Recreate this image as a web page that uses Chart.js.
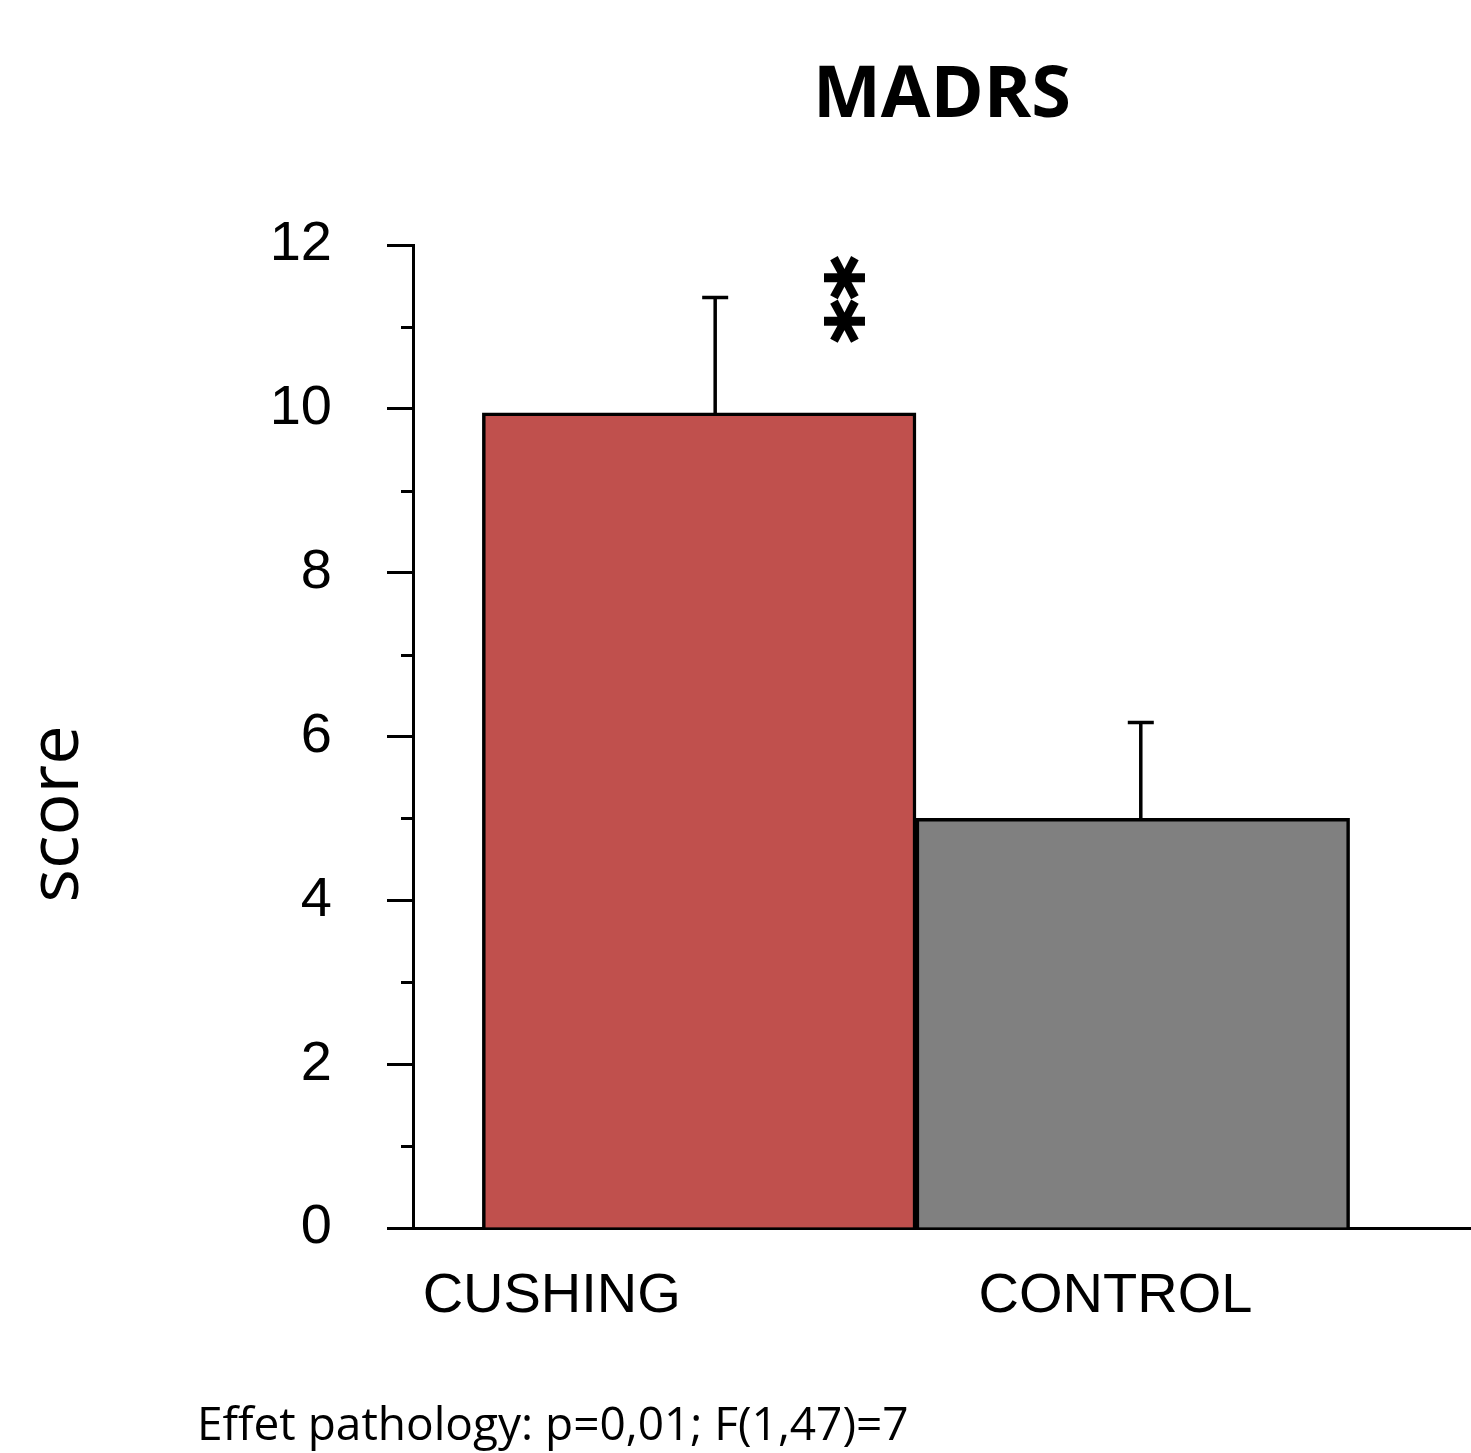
<!DOCTYPE html>
<html>
<head>
<meta charset="utf-8">
<title>MADRS</title>
<script src="https://cdn.jsdelivr.net/npm/chart.js@4/dist/chart.umd.min.js"></script>
<style>
  body { margin: 0; background: #fff; }
  canvas { display: block; }
</style>
</head>
<body>
<canvas id="chart" width="1471" height="1453"></canvas>
<script>
// Données
const groups = ['CUSHING', 'CONTROL'];
const means = [9.95, 5.0];
const errors = [1.41, 1.17];
const barColors = ['#C0504D', '#808080'];
const yTicks = [0, 2, 4, 6, 8, 10, 12];
const footnote = 'Effet pathology: p=0,01; F(1,47)=7';

// Barres d'erreur, astérisques, graduations mineures, textes libres
const extras = {
  id: 'extras',
  afterDatasetsDraw(chart) {
    const ctx = chart.ctx;
    const x = chart.scales.x;
    const y = chart.scales.y;
    const shift = [16, 8];
    ctx.save();
    ctx.strokeStyle = '#000';
    ctx.lineWidth = 3.5;
    means.forEach((m, i) => {
      const px = x.getPixelForValue(i) + shift[i];
      const top = y.getPixelForValue(m + errors[i]);
      const base = y.getPixelForValue(m);
      ctx.beginPath();
      ctx.moveTo(px, base);
      ctx.lineTo(px, top);
      ctx.moveTo(px - 13, top);
      ctx.lineTo(px + 13, top);
      ctx.stroke();
    });
    ctx.restore();
  },
  afterDraw(chart) {
    const ctx = chart.ctx;
    const x = chart.scales.x;
    const y = chart.scales.y;
    const area = chart.chartArea;
    ctx.save();
    // graduations mineures
    ctx.strokeStyle = '#000';
    ctx.lineWidth = 3;
    for (let v = 1; v < 12; v += 2) {
      const py = Math.round(y.getPixelForValue(v)) + 0.5;
      ctx.beginPath();
      ctx.moveTo(area.left - 12, py);
      ctx.lineTo(area.left, py);
      ctx.stroke();
    }
    // ** au-dessus de CUSHING
    ctx.fillStyle = '#000';
    ctx.strokeStyle = '#000';
    ctx.lineWidth = 2;
    ctx.font = 'bold 84px "DejaVu Sans"';
    ctx.textAlign = 'left';
    ctx.textBaseline = 'alphabetic';
    const m = ctx.measureText('*');
    const gx = (m.actualBoundingBoxRight - m.actualBoundingBoxLeft) / 2;
    const gy = (m.actualBoundingBoxDescent - m.actualBoundingBoxAscent) / 2;
    [11.6, 11.07].forEach(v => {
      ctx.save();
      ctx.translate(x.getPixelForValue(0.335), y.getPixelForValue(v));
      ctx.rotate(Math.PI / 2);
      ctx.fillText('*', -gx, -gy);
      ctx.strokeText('*', -gx, -gy);
      ctx.restore();
    });
    // titre de l'axe y
    ctx.save();
    ctx.translate(59, 814);
    ctx.rotate(-Math.PI / 2);
    ctx.font = '70px "Open Sans"';
    ctx.textAlign = 'center';
    ctx.textBaseline = 'alphabetic';
    ctx.fillText('score', 0, 19);
    ctx.restore();
    // note en bas
    ctx.font = '46px "Open Sans"';
    ctx.textAlign = 'left';
    ctx.textBaseline = 'alphabetic';
    ctx.fillText(footnote, 197, 1440);
    ctx.restore();
  }
};

new Chart(document.getElementById('chart'), {
  type: 'bar',
  data: {
    datasets: [{
      data: means.map((v, i) => ({ x: i, y: v })),
      backgroundColor: barColors,
      borderColor: '#000',
      borderWidth: 3.5,
      categoryPercentage: 1,
      barPercentage: 1
    }]
  },
  options: {
    responsive: false,
    animation: false,
    layout: { padding: 0 },
    plugins: {
      legend: { display: false },
      tooltip: { enabled: false },
      title: {
        display: true,
        text: 'MADRS',
        fullSize: false,
        color: '#000',
        font: { family: '"Open Sans"', size: 72, weight: 'bold', lineHeight: 1.2 },
        padding: { top: 53, bottom: 105.6 }
      }
    },
    scales: {
      x: {
        type: 'linear',
        offset: false,
        min: -0.66,
        max: 1.78,
        afterFit(scale) { scale.height = 225; },
        afterBuildTicks(scale) {
          scale.ticks = [{ value: -0.34 }, { value: 0.96 }];
        },
        grid: { display: false, drawTicks: false, offset: false },
        border: { display: true, color: '#000', width: 3 },
        ticks: {
          autoSkip: false,
          maxRotation: 0,
          minRotation: 0,
          padding: 35,
          color: '#000',
          font: { family: '"Liberation Sans"', size: 56 },
          callback: (v, i) => groups[i]
        }
      },
      y: {
        min: 0,
        max: 12,
        afterFit(scale) { scale.width = 413; },
        afterBuildTicks(scale) {
          scale.ticks = yTicks.map(v => ({ value: v }));
        },
        grid: {
          drawOnChartArea: false,
          drawTicks: true,
          tickLength: 26,
          tickWidth: 3,
          tickColor: '#000'
        },
        border: { display: true, color: '#000', width: 3 },
        ticks: {
          padding: 55,
          color: '#000',
          font: { family: '"Liberation Sans"', size: 56 },
          callback: v => String(v)
        }
      }
    }
  },
  plugins: [extras]
});
</script>
</body>
</html>
